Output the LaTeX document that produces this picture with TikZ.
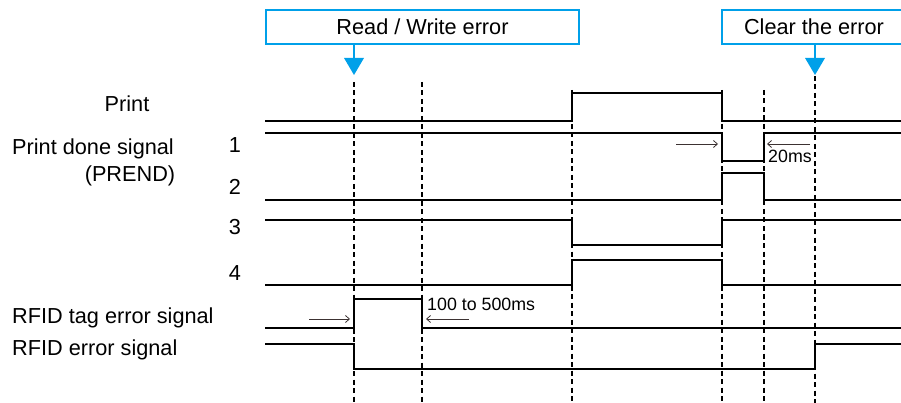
\documentclass[tikz,border=0pt]{standalone}
\usepackage{fontspec}
\setmainfont{Liberation Sans}
\usetikzlibrary{arrows.meta}
\definecolor{callblue}{RGB}{0,160,233}
\definecolor{tickgray}{RGB}{60,50,50}
\begin{document}
\begin{tikzpicture}[x=1pt,y=-1pt,
  sig/.style={line width=2.8pt,line join=miter,line cap=butt},
  guide/.style={line width=1.4pt,dash pattern=on 5pt off 3.5pt},
  lbl/.style={inner sep=0pt,font=\fontsize{21.7}{24}\selectfont},
  small/.style={inner sep=0pt,font=\fontsize{17.8}{20}\selectfont},
  callbox/.style={draw=callblue,line width=1.6pt,fill=white},
  tick/.style={draw=tickgray,line width=0.8pt,-{Straight Barb[length=4pt,width=7pt]}},
  tri/.style={fill=callblue,draw=none}]
\useasboundingbox (0,0) rectangle (901,403);
% guide lines
\draw[guide] (354,82) -- (354,403);
\draw[guide] (422,82) -- (422,403);
\draw[guide] (572,90) -- (572,403);
\draw[guide] (722,90) -- (722,403);
\draw[guide] (764,90) -- (764,403);
\draw[guide] (815,76) -- (815,403);
% signals
\draw[sig] (265,121) -- (572,121) -- (572,93) -- (722,93) -- (722,121) -- (905,121);
\draw[sig] (265,133) -- (722,133) -- (722,161) -- (764,161) -- (764,133) -- (905,133);
\draw[sig] (265,200) -- (722,200) -- (722,173) -- (764,173) -- (764,200) -- (905,200);
\draw[sig] (265,220) -- (572,220) -- (572,245) -- (722,245) -- (722,220) -- (905,220);
\draw[sig] (265,285) -- (572,285) -- (572,260) -- (722,260) -- (722,285) -- (905,285);
\draw[sig] (265,328) -- (354,328) -- (354,299) -- (422,299) -- (422,328) -- (905,328);
\draw[sig] (265,344) -- (354,344) -- (354,369) -- (815,369) -- (815,344) -- (905,344);
% callouts
\draw[callbox] (266,10) rectangle (579,44);
\node[lbl,anchor=base] (rw) at (422.5,34.3) {Read / Write error};
\draw[callblue,line width=1.6pt] (354,44) -- (354,59);
\fill[tri] (344,58) -- (364,58) -- (354,75) -- cycle;
\draw[callbox] (722,10) rectangle (910,44);
\node[lbl,anchor=base] (clr) at (814,34.3) {Clear the error};
\draw[callblue,line width=1.6pt] (815,44) -- (815,59);
\fill[tri] (805,58) -- (825,58) -- (815,75) -- cycle;
% labels
\node[lbl,anchor=base] (lp) at (127,111.7) {Print};
\node[lbl,anchor=base west] (lpd) at (12,155) {Print done signal};
\node[lbl,anchor=base] (lpr) at (130,181.7) {(PREND)};
\node[lbl,anchor=base] (n1) at (235,153) {1};
\node[lbl,anchor=base] (n2) at (235,195) {2};
\node[lbl,anchor=base] (n3) at (235,235) {3};
\node[lbl,anchor=base] (n4) at (235,280) {4};
\node[lbl,anchor=base west] (ltag) at (12,323) {RFID tag error signal};
\node[lbl,anchor=base west] (lerr) at (12,355) {RFID error signal};
% timing marks
\coordinate (a1s) at (676,144); \coordinate (a1e) at (718,144);
\coordinate (a2s) at (810,144); \coordinate (a2e) at (767,144);
\draw[tick] (a1s) -- (a1e);
\draw[tick] (a2s) -- (a2e);
\node[small,anchor=base west] (t20) at (768,163) {20ms};
\coordinate (b1s) at (309,319); \coordinate (b1e) at (350,319);
\coordinate (b2s) at (469,319); \coordinate (b2e) at (426,319);
\draw[tick] (b1s) -- (b1e);
\draw[tick] (b2s) -- (b2e);
\node[small,anchor=base west] (t100) at (427,310) {100 to 500ms};
\end{tikzpicture}
\end{document}
